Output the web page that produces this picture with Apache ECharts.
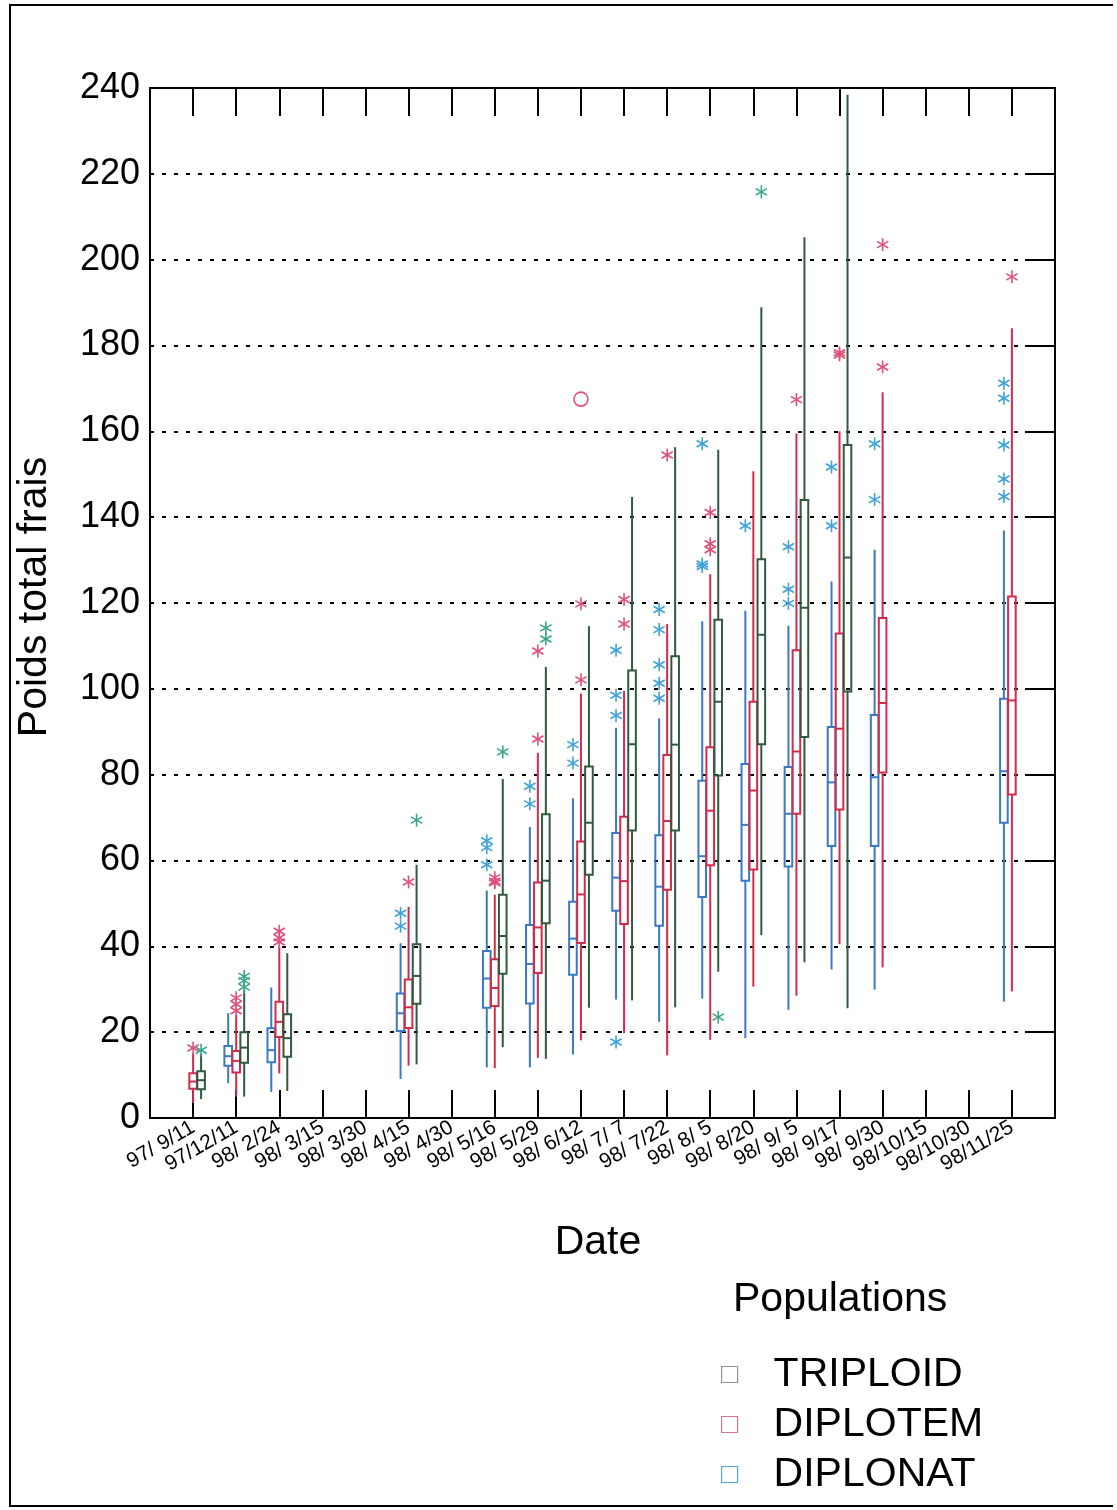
<!DOCTYPE html>
<html><head><meta charset="utf-8">
<script src="https://cdn.jsdelivr.net/npm/echarts@6/dist/echarts.min.js"></script>
<style>html,body{margin:0;padding:0;background:#fff}#c{width:1117px;height:1510px}</style>
</head><body><div id="c"></div>
<script>
const dates = ['97/ 9/11','97/12/11','98/ 2/24','98/ 3/15','98/ 3/30','98/ 4/15','98/ 4/30','98/ 5/16','98/ 5/29','98/ 6/12','98/ 7/ 7','98/ 7/22','98/ 8/ 5','98/ 8/20','98/ 9/ 5','98/ 9/17','98/ 9/30','98/10/15','98/10/30','98/11/25'];
const yTicks = [0, 240, 20];

// [date, min, q1, median, q3, max]
const diplonatBox = [
  ['97/12/11', 8.1, 12.2, 14.4, 16.8, 24.4],
  ['98/ 2/24', 6.1, 13.0, 15.8, 20.9, 30.4],
  ['98/ 4/15', 9.1, 20.3, 24.4, 29.0, 40.7],
  ['98/ 5/16', 11.8, 25.7, 32.5, 38.9, 53.0],
  ['98/ 5/29', 11.8, 26.7, 35.9, 45.0, 67.8],
  ['98/ 6/12', 14.8, 33.4, 41.8, 50.4, 74.5],
  ['98/ 7/ 7', 27.6, 48.3, 56.0, 66.4, 90.9],
  ['98/ 7/22', 22.4, 44.8, 53.9, 65.9, 93.1],
  ['98/ 8/ 5', 27.8, 51.5, 61.0, 78.6, 115.7],
  ['98/ 8/20', 18.6, 55.3, 68.3, 82.5, 118.2],
  ['98/ 9/ 5', 25.2, 58.6, 70.9, 81.8, 114.7],
  ['98/ 9/17', 34.6, 63.4, 78.2, 91.1, 125.0],
  ['98/ 9/30', 29.9, 63.4, 79.4, 93.9, 132.4],
  ['98/11/25', 27.1, 68.8, 80.8, 97.7, 136.9]
];
const diplotemBox = [
  ['97/ 9/11', 3.5, 6.8, 8.5, 10.4, 15.0],
  ['97/12/11', 5.0, 10.6, 13.3, 15.6, 24.0],
  ['98/ 2/24', 10.4, 18.9, 22.4, 27.1, 39.9],
  ['98/ 4/15', 12.2, 21.0, 25.8, 32.3, 49.2],
  ['98/ 5/16', 11.6, 26.1, 30.3, 37.0, 52.0],
  ['98/ 5/29', 14.0, 33.8, 44.4, 54.9, 85.1],
  ['98/ 6/12', 18.1, 40.8, 52.1, 64.4, 98.9],
  ['98/ 7/ 7', 19.8, 45.2, 55.2, 70.2, 99.5],
  ['98/ 7/22', 14.6, 53.2, 69.2, 84.6, 115.1],
  ['98/ 8/ 5', 18.2, 58.9, 71.6, 86.4, 126.7],
  ['98/ 8/20', 30.6, 57.9, 76.3, 97.0, 150.7],
  ['98/ 9/ 5', 28.5, 70.9, 85.4, 109.0, 159.5],
  ['98/ 9/17', 40.5, 71.9, 90.7, 112.9, 160.0],
  ['98/ 9/30', 35.1, 80.5, 96.7, 116.5, 169.1],
  ['98/11/25', 29.5, 75.4, 97.3, 121.5, 184.0]
];
const triploidBox = [
  ['97/ 9/11', 4.4, 6.7, 8.8, 10.9, 15.0],
  ['97/12/11', 5.0, 12.9, 16.4, 20.0, 29.8],
  ['98/ 2/24', 6.3, 14.3, 18.6, 24.2, 38.4],
  ['98/ 4/15', 12.5, 26.6, 33.1, 40.5, 59.0],
  ['98/ 5/16', 16.5, 33.6, 42.4, 52.0, 79.0],
  ['98/ 5/29', 13.8, 45.4, 55.3, 70.8, 105.1],
  ['98/ 6/12', 25.7, 56.7, 68.8, 81.9, 114.6],
  ['98/ 7/ 7', 27.4, 67.0, 87.1, 104.3, 144.7],
  ['98/ 7/22', 25.8, 67.0, 87.0, 107.6, 156.3],
  ['98/ 8/ 5', 34.1, 79.8, 97.0, 116.1, 155.7],
  ['98/ 8/20', 42.6, 87.1, 112.6, 130.2, 188.9],
  ['98/ 9/ 5', 36.3, 88.8, 118.9, 144.0, 205.2],
  ['98/ 9/17', 25.6, 99.4, 130.6, 156.8, 238.4]
];

// outliers [date, value]
const diplonatOut = [
  ['98/ 4/15', 47.7], ['98/ 4/15', 44.7],
  ['98/ 5/16', 64.6], ['98/ 5/16', 63.0], ['98/ 5/16', 59.0],
  ['98/ 5/29', 77.3], ['98/ 5/29', 73.2],
  ['98/ 6/12', 87.0], ['98/ 6/12', 82.7],
  ['98/ 7/ 7', 109.0], ['98/ 7/ 7', 98.5], ['98/ 7/ 7', 93.8], ['98/ 7/ 7', 17.7],
  ['98/ 7/22', 118.5], ['98/ 7/22', 113.8], ['98/ 7/22', 105.6], ['98/ 7/22', 101.3], ['98/ 7/22', 97.8],
  ['98/ 8/ 5', 157.1], ['98/ 8/ 5', 129.1], ['98/ 8/ 5', 128.5],
  ['98/ 8/20', 138.0],
  ['98/ 9/ 5', 133.1], ['98/ 9/ 5', 123.2], ['98/ 9/ 5', 119.9],
  ['98/ 9/17', 151.7], ['98/ 9/17', 138.0],
  ['98/ 9/30', 157.1], ['98/ 9/30', 144.1],
  ['98/11/25', 171.2], ['98/11/25', 167.7], ['98/11/25', 156.8], ['98/11/25', 148.9], ['98/11/25', 144.8]
];
const diplotemOut = [
  ['97/ 9/11', 16.3],
  ['97/12/11', 28.0], ['97/12/11', 26.5], ['97/12/11', 25.0],
  ['98/ 2/24', 43.5], ['98/ 2/24', 42.0], ['98/ 2/24', 41.0],
  ['98/ 4/15', 55.0],
  ['98/ 5/16', 56.0], ['98/ 5/16', 55.2], ['98/ 5/16', 54.8],
  ['98/ 5/29', 108.8], ['98/ 5/29', 88.3],
  ['98/ 6/12', 119.8], ['98/ 6/12', 102.1],
  ['98/ 7/ 7', 120.8], ['98/ 7/ 7', 115.1],
  ['98/ 7/22', 154.5],
  ['98/ 8/ 5', 141.1], ['98/ 8/ 5', 133.8], ['98/ 8/ 5', 132.4],
  ['98/ 9/ 5', 167.4],
  ['98/ 9/17', 178.3], ['98/ 9/17', 177.8],
  ['98/ 9/30', 203.5], ['98/ 9/30', 175.0],
  ['98/11/25', 196.0]
];
const diplotemFar = [['98/ 6/12', 167.5]];
const triploidOut = [
  ['97/ 9/11', 15.8],
  ['97/12/11', 33.0], ['97/12/11', 32.0], ['97/12/11', 30.5],
  ['98/ 4/15', 69.4],
  ['98/ 5/16', 85.3],
  ['98/ 5/29', 114.2], ['98/ 5/29', 111.6],
  ['98/ 8/ 5', 23.5],
  ['98/ 8/20', 215.8]
];

const FONT = '"Liberation Sans", Arial, sans-serif';
const C = {
  nat: {line: '#3b78c6', star: '#3ea2da', off: -8},
  tem: {line: '#d42b4b', star: '#e0507a', off: 0},
  tri: {line: '#2f5a3e', star: '#3aa58a', off: 8}
};
function toIdx(rows) { return rows.map(r => [dates.indexOf(r[0]) + 1].concat(r.slice(1))); }

function boxItem(offset, color) {
  return function (params, api) {
    const x = api.value(0);
    const p = [1, 2, 3, 4, 5].map(i => api.coord([x, api.value(i)]));
    const cx = p[0][0] + offset, hw = 3.8;
    const ls = {stroke: color, lineWidth: 2};
    return {type: 'group', children: [
      {type: 'line', shape: {x1: cx, y1: p[0][1], x2: cx, y2: p[1][1]}, style: ls},
      {type: 'line', shape: {x1: cx, y1: p[3][1], x2: cx, y2: p[4][1]}, style: ls},
      {type: 'rect', shape: {x: cx - hw, y: p[3][1], width: hw * 2, height: p[1][1] - p[3][1]},
        style: {stroke: color, lineWidth: 2, fill: 'rgba(255,255,255,0)'}},
      {type: 'line', shape: {x1: cx - hw, y1: p[2][1], x2: cx + hw, y2: p[2][1]}, style: ls}
    ]};
  };
}
function starItem(offset, color) {
  return function (params, api) {
    const c = api.coord([api.value(0), api.value(1)]);
    const cx = c[0] + offset, cy = c[1], r = 6.5;
    const dx = r * Math.cos(Math.PI / 6), dy = r * Math.sin(Math.PI / 6);
    const ls = {stroke: color, lineWidth: 1.6};
    return {type: 'group', children: [
      {type: 'line', shape: {x1: cx, y1: cy - r, x2: cx, y2: cy + r}, style: ls},
      {type: 'line', shape: {x1: cx - dx, y1: cy - dy, x2: cx + dx, y2: cy + dy}, style: ls},
      {type: 'line', shape: {x1: cx - dx, y1: cy + dy, x2: cx + dx, y2: cy - dy}, style: ls}
    ]};
  };
}
function circleItem(offset, color) {
  return function (params, api) {
    const c = api.coord([api.value(0), api.value(1)]);
    return {type: 'circle', shape: {cx: c[0] + offset, cy: c[1], r: 7},
      style: {stroke: color, lineWidth: 1.6, fill: 'rgba(255,255,255,0)'}};
  };
}

const axisLineStyle = {color: '#000', width: 2};
const xBase = {type: 'value', min: 0, max: 21, interval: 1,
  axisLine: {show: true, onZero: false, lineStyle: axisLineStyle},
  axisTick: {show: true, inside: true, length: 28, lineStyle: axisLineStyle},
  splitLine: {show: false}};
const yBase = {type: 'value', min: yTicks[0], max: yTicks[1], interval: yTicks[2],
  axisLine: {show: true, onZero: false, lineStyle: axisLineStyle}};

function boxSeries(name, rows, c) {
  return {type: 'custom', name: name, data: toIdx(rows), encode: {x: 0, y: [1, 2, 3, 4, 5]},
    renderItem: boxItem(c.off, c.line), z: 3};
}
function starSeries(name, rows, c) {
  return {type: 'custom', name: name, data: toIdx(rows), encode: {x: 0, y: 1},
    renderItem: starItem(c.off, c.star), z: 4};
}

const chart = echarts.init(document.getElementById('c'), null, {renderer: 'canvas'});
chart.setOption({
  animation: false,
  backgroundColor: '#fff',
  grid: {left: 150, right: 62, top: 88, bottom: 392, containLabel: false},
  xAxis: [
    Object.assign({}, xBase, {position: 'bottom',
      axisLabel: {formatter: v => dates[v - 1] || '', rotate: 30, fontSize: 21, color: '#000',
        fontFamily: FONT, margin: 8}}),
    Object.assign({}, xBase, {position: 'top', axisLabel: {show: false}})
  ],
  yAxis: [
    Object.assign({}, yBase, {position: 'left', axisTick: {show: false},
      axisLabel: {fontSize: 36, color: '#000', fontFamily: FONT, margin: 10},
      splitLine: {show: true, lineStyle: {type: [4, 8], color: '#000', width: 2}}}),
    Object.assign({}, yBase, {position: 'right',
      axisTick: {show: true, inside: true, length: 30, lineStyle: axisLineStyle},
      axisLabel: {show: false}, splitLine: {show: false}})
  ],
  title: {text: 'Populations', left: 728, top: 1274,
    textStyle: {fontSize: 41, fontWeight: 'normal', color: '#000', fontFamily: FONT}},
  legend: {orient: 'vertical', left: 716, top: 1349, itemWidth: 16, itemHeight: 16, itemGap: 9,
    textStyle: {fontSize: 41, lineHeight: 41, color: '#000', fontFamily: FONT, padding: [0, 0, 0, 31]},
    data: [
      {name: 'TRIPLOID', icon: 'rect', itemStyle: {color: 'rgba(0,0,0,0)', borderColor: '#8a9a90', borderWidth: 1.2}},
      {name: 'DIPLOTEM', icon: 'rect', itemStyle: {color: 'rgba(0,0,0,0)', borderColor: '#e07090', borderWidth: 1.2}},
      {name: 'DIPLONAT', icon: 'rect', itemStyle: {color: 'rgba(0,0,0,0)', borderColor: '#50a8d8', borderWidth: 1.2}}
    ]},
  graphic: [
    {type: 'text', x: 35, y: 597, rotation: Math.PI / 2,
      style: {text: 'Poids total frais', fontSize: 41, fontFamily: FONT, fill: '#000',
        textAlign: 'center', textVerticalAlign: 'middle'}},
    {type: 'text', x: 598, y: 1243,
      style: {text: 'Date', fontSize: 41, fontFamily: FONT, fill: '#000',
        textAlign: 'center', textVerticalAlign: 'middle'}},
    {type: 'polyline', shape: {points: [[1113, 5], [10, 5], [10, 1506], [1113, 1506]]},
      style: {stroke: '#000', lineWidth: 2, fill: null}}
  ],
  series: [
    boxSeries('DIPLONAT', diplonatBox, C.nat),
    boxSeries('DIPLOTEM', diplotemBox, C.tem),
    boxSeries('TRIPLOID', triploidBox, C.tri),
    starSeries('DIPLONAT', diplonatOut, C.nat),
    starSeries('DIPLOTEM', diplotemOut, C.tem),
    starSeries('TRIPLOID', triploidOut, C.tri),
    {type: 'custom', name: 'DIPLOTEM', data: toIdx(diplotemFar), encode: {x: 0, y: 1},
      renderItem: circleItem(C.tem.off, C.tem.star), z: 4}
  ]
});
</script>
</body></html>
